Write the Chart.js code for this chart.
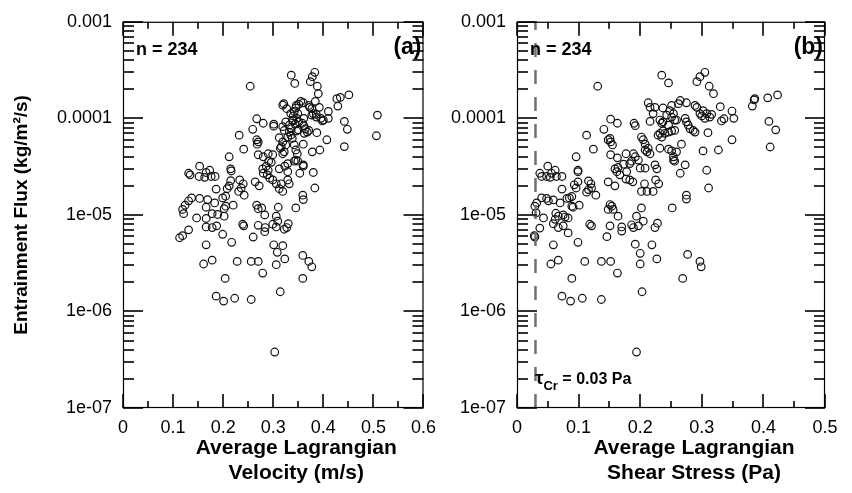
<!DOCTYPE html>
<html>
<head>
<meta charset="utf-8">
<script src="https://cdn.jsdelivr.net/npm/chart.js@4.4.0/dist/chart.umd.min.js"></script>
<style>
  body { margin: 0; background: #fff; }
  #wrap { position: relative; width: 852px; height: 493px; }
  canvas { position: absolute; top: 0; }
</style>
</head>
<body>
<div id="wrap">
  <canvas id="chartA" width="445" height="493" style="left:0"></canvas>
  <canvas id="chartB" width="407" height="493" style="left:445px"></canvas>
</div>
<script>
// panel (a) : velocity vs flux
const velA = [
  0.254, 0.267, 0.280, 0.259, 0.301, 0.301, 0.232, 0.267, 0.270, 0.268,
  0.241, 0.312, 0.314, 0.212, 0.270, 0.280, 0.290, 0.299, 0.291, 0.296,
  0.286, 0.279, 0.280, 0.290, 0.288, 0.293, 0.299, 0.312, 0.215, 0.216,
  0.153, 0.131, 0.134, 0.152, 0.163, 0.166, 0.173, 0.176, 0.184, 0.186,
  0.215, 0.212, 0.208, 0.233, 0.240, 0.236, 0.231, 0.242, 0.264, 0.272,
  0.306, 0.312, 0.319, 0.199, 0.205, 0.137, 0.131, 0.124, 0.119, 0.121,
  0.153, 0.169, 0.183, 0.166, 0.205, 0.202, 0.220, 0.178, 0.189, 0.202,
  0.147, 0.166, 0.267, 0.270, 0.277, 0.283, 0.310, 0.306,
  0.166, 0.178, 0.187, 0.131, 0.119, 0.113, 0.199, 0.239, 0.241, 0.270,
  0.284, 0.283, 0.299, 0.306, 0.309, 0.260, 0.322, 0.166, 0.217, 0.301,
  0.319, 0.308, 0.161, 0.178, 0.228, 0.256, 0.270, 0.306, 0.323, 0.279,
  0.204, 0.186, 0.201, 0.223, 0.256, 0.314, 0.303,
  0.359, 0.371, 0.377, 0.359,
  0.329, 0.323, 0.353, 0.360, 0.380, 0.329, 0.332, 0.316, 0.359, 0.360,
  0.383, 0.345, 0.330, 0.327,
  0.336, 0.343, 0.378, 0.374, 0.388, 0.390, 0.451, 0.434, 0.427, 0.429,
  0.384, 0.355, 0.360, 0.351, 0.345, 0.342, 0.335, 0.340, 0.347, 0.338,
  0.371, 0.377, 0.380, 0.377, 0.386, 0.392, 0.395, 0.400, 0.410, 0.410,
  0.442, 0.448, 0.325, 0.332, 0.319, 0.322, 0.351, 0.358, 0.361, 0.364,
  0.368, 0.362, 0.332, 0.335, 0.329, 0.338, 0.387, 0.407, 0.319, 0.325,
  0.316, 0.322, 0.319, 0.342, 0.345, 0.348, 0.345, 0.342, 0.349, 0.360,
  0.378, 0.393, 0.442, 0.329, 0.360,
  0.508, 0.506,
  0.321, 0.319, 0.327, 0.346, 0.349, 0.373, 0.386, 0.361, 0.340, 0.344,
  0.347, 0.350, 0.336, 0.371, 0.398, 0.383
]
const fluxA = [
  2.15e-4, 9.9e-5, 8.9e-5, 7.7e-5, 8.7e-5, 8.3e-5, 6.7e-5, 6.0e-5, 5.7e-5, 5.4e-5,
  4.8e-5, 6.3e-5, 4.9e-5, 4.0e-5, 4.2e-5, 4.0e-5, 4.3e-5, 4.2e-5, 3.6e-5, 3.5e-5,
  3.2e-5, 3.0e-5, 2.7e-5, 2.9e-5, 2.6e-5, 2.4e-5, 2.3e-5, 3.0e-5, 3.0e-5, 2.85e-5,
  3.2e-5, 2.7e-5, 2.6e-5, 2.5e-5, 2.45e-5, 2.75e-5, 2.9e-5, 2.5e-5, 2.5e-5, 1.85e-5,
  2.26e-5, 2.0e-5, 1.87e-5, 2.3e-5, 2.1e-5, 1.9e-5, 1.75e-5, 1.6e-5, 2.2e-5, 2.0e-5,
  2.1e-5, 1.87e-5, 1.75e-5, 1.5e-5, 1.56e-5, 1.5e-5, 1.4e-5, 1.26e-5, 1.14e-5, 1.03e-5,
  1.48e-5, 1.44e-5, 1.33e-5, 1.2e-5, 1.23e-5, 1.16e-5, 1.26e-5, 1.03e-5, 1.01e-5, 9.7e-6,
  9.3e-6, 9.2e-6, 1.26e-5, 1.16e-5, 1.18e-5, 1.0e-5, 1.2e-5, 9.7e-6,
  7.5e-6, 7.4e-6, 7.7e-6, 7.0e-6, 6.1e-6, 5.8e-6, 6.3e-6, 8.0e-6, 7.7e-6, 7.8e-6,
  7.4e-6, 6.7e-6, 8.0e-6, 7.5e-6, 8.6e-6, 5.9e-6, 7.1e-6, 4.9e-6, 5.2e-6, 4.9e-6,
  4.8e-6, 4.1e-6, 3.1e-6, 3.4e-6, 3.3e-6, 3.3e-6, 3.3e-6, 3.05e-6, 3.5e-6, 2.5e-6,
  2.2e-6, 1.44e-6, 1.28e-6, 1.37e-6, 1.33e-6, 1.6e-6, 3.8e-7,
  3.8e-6, 3.3e-6, 2.9e-6, 2.2e-6,
  2.8e-5, 3.2e-5, 2.7e-5, 3.2e-5, 2.75e-5, 2.3e-5, 2.1e-5, 2.1e-5, 1.6e-5, 1.44e-5,
  1.9e-5, 1.18e-5, 8.1e-6, 7.4e-6,
  2.8e-4, 2.3e-4, 2.7e-4, 2.4e-4, 2.15e-4, 1.8e-4, 1.75e-4, 1.65e-4, 1.6e-4, 1.34e-4,
  1.5e-4, 1.5e-4, 1.45e-4, 1.4e-4, 1.28e-4, 1.18e-4, 1.12e-4, 1.06e-4, 1.0e-4, 9.6e-5,
  1.36e-4, 1.26e-4, 1.12e-4, 1.08e-4, 1.03e-4, 1.3e-4, 1.0e-4, 9.6e-5, 1.18e-4, 1.0e-4,
  9.3e-5, 7.7e-5, 9.2e-5, 8.5e-5, 8.2e-5, 7.5e-5, 9.2e-5, 8.9e-5, 8.4e-5, 7.8e-5,
  7.2e-5, 7.0e-5, 7.2e-5, 6.7e-5, 6.4e-5, 6.2e-5, 7.1e-5, 6.0e-5, 5.7e-5, 5.3e-5,
  5.1e-5, 4.5e-5, 4.3e-5, 5.3e-5, 4.7e-5, 4.3e-5, 3.7e-5, 3.6e-5, 3.6e-5, 5.4e-5,
  4.5e-5, 4.7e-5, 5.1e-5, 3.4e-5, 3.3e-5,
  1.08e-4, 6.6e-5,
  1.42e-4, 1.37e-4, 1.26e-4, 1.36e-4, 1.12e-4, 1.3e-4, 1.1e-4, 1.0e-4, 9.4e-5, 8.7e-5,
  7.4e-5, 7.6e-5, 7.8e-5, 7.5e-5, 9.4e-5, 3.0e-4
]

// panel (b) : shear stress vs flux
const shearB = [
  0.152, 0.163, 0.190, 0.192, 0.141, 0.113, 0.148, 0.152, 0.155, 0.151,
  0.124, 0.152, 0.177, 0.189, 0.186, 0.183, 0.163, 0.096, 0.173, 0.164,
  0.159, 0.162, 0.178, 0.167, 0.177, 0.183, 0.188, 0.099, 0.099, 0.050,
  0.037, 0.040, 0.048, 0.054, 0.056, 0.062, 0.064, 0.073, 0.148, 0.159,
  0.093, 0.099, 0.096, 0.116, 0.120, 0.121, 0.116, 0.113, 0.073, 0.128,
  0.085, 0.089, 0.081, 0.040, 0.048, 0.051, 0.059, 0.070, 0.032, 0.029,
  0.031, 0.043, 0.089, 0.091, 0.101, 0.151, 0.156, 0.148, 0.164, 0.154,
  0.063, 0.067, 0.075, 0.078, 0.083, 0.062, 0.059, 0.075, 0.118, 0.121,
  0.151, 0.170, 0.186, 0.189, 0.037,
  0.028, 0.029, 0.067, 0.083, 0.170, 0.146, 0.059, 0.099, 0.055, 0.067,
  0.110, 0.137, 0.152, 0.163, 0.089, 0.073, 0.087, 0.106, 0.137,
  0.235, 0.246, 0.297, 0.292, 0.305, 0.312, 0.319, 0.213, 0.216, 0.224,
  0.221, 0.216, 0.237, 0.251, 0.248, 0.243, 0.251, 0.254, 0.259, 0.262,
  0.265, 0.275, 0.232, 0.237, 0.235, 0.246, 0.256, 0.289, 0.292, 0.302,
  0.297, 0.300, 0.308, 0.316, 0.305, 0.313, 0.273, 0.275, 0.278, 0.281,
  0.286, 0.289, 0.310, 0.232, 0.229, 0.235, 0.240, 0.237, 0.246, 0.251,
  0.256, 0.267, 0.202, 0.205, 0.208, 0.213, 0.208, 0.211, 0.216, 0.232,
  0.246, 0.251, 0.259, 0.254, 0.254, 0.256, 0.302, 0.192, 0.197, 0.224,
  0.227, 0.200, 0.208, 0.273, 0.308,
  0.330, 0.349, 0.336, 0.332, 0.352, 0.386, 0.385, 0.382, 0.407, 0.423,
  0.409, 0.420, 0.349, 0.327, 0.411,
  0.265, 0.207, 0.225, 0.230, 0.202, 0.211, 0.221, 0.311, 0.275, 0.275,
  0.202, 0.252, 0.194, 0.205, 0.197, 0.228, 0.224, 0.192, 0.219, 0.200,
  0.227, 0.277, 0.297,
  0.200, 0.299, 0.269, 0.203, 0.194,
  0.131
]
const fluxB = [
  9.8e-5, 8.9e-5, 8.9e-5, 8.4e-5, 7.7e-5, 6.7e-5, 6.0e-5, 5.7e-5, 5.3e-5, 6.2e-5,
  4.8e-5, 4.2e-5, 4.3e-5, 4.3e-5, 3.6e-5, 3.4e-5, 3.9e-5, 4.0e-5, 3.35e-5, 3.1e-5,
  3.0e-5, 2.8e-5, 2.8e-5, 2.6e-5, 2.35e-5, 2.3e-5, 2.2e-5, 2.9e-5, 2.8e-5, 3.2e-5,
  2.7e-5, 2.5e-5, 2.5e-5, 2.45e-5, 2.7e-5, 2.9e-5, 2.5e-5, 2.5e-5, 2.2e-5, 2.0e-5,
  2.05e-5, 2.2e-5, 1.9e-5, 2.25e-5, 2.1e-5, 1.9e-5, 1.83e-5, 1.72e-5, 1.85e-5, 1.6e-5,
  1.5e-5, 1.55e-5, 1.48e-5, 1.5e-5, 1.48e-5, 1.4e-5, 1.43e-5, 1.33e-5, 1.33e-5, 1.23e-5,
  1.05e-5, 9.3e-6, 1.23e-5, 1.2e-5, 1.26e-5, 1.28e-5, 1.14e-5, 1.14e-5, 9.7e-6, 1.23e-5,
  1.04e-5, 9.7e-6, 1.0e-5, 9.5e-6, 9.3e-6, 9.0e-6, 8.1e-6, 7.7e-6, 8.0e-6, 7.7e-6,
  7.7e-6, 7.5e-6, 7.9e-6, 7.4e-6, 7.3e-6,
  6.1e-6, 5.9e-6, 7.4e-6, 6.5e-6, 6.8e-6, 5.95e-6, 4.9e-6, 5.2e-6, 3.1e-6, 3.4e-6,
  3.3e-6, 3.3e-6, 3.3e-6, 2.5e-6, 2.2e-6, 1.44e-6, 1.28e-6, 1.37e-6, 1.33e-6,
  2.8e-4, 2.33e-4, 2.7e-4, 2.4e-4, 3.0e-4, 2.15e-4, 1.8e-4, 1.45e-4, 1.3e-4, 1.3e-4,
  1.12e-4, 9.3e-5, 1.28e-4, 1.36e-4, 1.2e-4, 1.08e-4, 1.03e-4, 1.12e-4, 9.6e-5, 1.42e-4,
  1.53e-4, 1.45e-4, 9.6e-5, 9.2e-5, 8.9e-5, 8.5e-5, 9.6e-5, 1.36e-4, 1.3e-4, 1.2e-4,
  1.12e-4, 1.06e-4, 1.12e-4, 1.1e-4, 1.0e-4, 1.03e-4, 1.0e-4, 9.2e-5, 8.5e-5, 7.8e-5,
  7.5e-5, 7.2e-5, 7.1e-5, 7.0e-5, 6.7e-5, 6.4e-5, 7.0e-5, 7.4e-5, 7.2e-5, 7.4e-5,
  7.5e-5, 5.4e-5, 6.4e-5, 6.0e-5, 5.4e-5, 4.9e-5, 4.7e-5, 4.5e-5, 4.3e-5, 4.9e-5,
  4.8e-5, 4.6e-5, 4.5e-5, 4.0e-5, 3.7e-5, 3.6e-5, 4.6e-5, 4.0e-5, 3.7e-5, 3.3e-5,
  3.0e-5, 3.05e-5, 3.05e-5, 3.3e-5, 2.9e-5,
  1.32e-4, 1.19e-4, 9.9e-5, 9.4e-5, 1.0e-4, 1.6e-4, 1.55e-4, 1.34e-4, 1.63e-4, 1.75e-4,
  9.3e-5, 7.6e-5, 6.0e-5, 4.7e-5, 5.05e-5,
  2.7e-5, 2.1e-5, 2.3e-5, 2.1e-5, 1.75e-5, 1.75e-5, 1.75e-5, 1.9e-5, 1.6e-5, 1.46e-5,
  1.18e-5, 1.18e-5, 9.7e-6, 8.6e-6, 7.7e-6, 8.2e-6, 7.4e-6, 4.97e-6, 4.9e-6, 4.0e-6,
  3.5e-6, 3.9e-6, 3.3e-6,
  3.1e-6, 2.9e-6, 2.2e-6, 1.6e-6, 3.8e-7,
  2.15e-4
]

const yTicks = [1e-7, 1e-6, 1e-5, 1e-4, 1e-3]
const yTickLabels = ["1e-07", "1e-06", "1e-05", "0.0001", "0.001"]
const xTicksA = [0, 0.1, 0.2, 0.3, 0.4, 0.5, 0.6]
const xTicksB = [0, 0.1, 0.2, 0.3, 0.4, 0.5]
const tauCr = 0.03

const FONT = "'Liberation Sans', Arial, sans-serif"

/**
 * Cadre, graduations vers l'intérieur et textes du panneau
 */
const frameTicks = {
  id: "frameTicks",
  afterDraw(chart, args, opts) {
    const { ctx, chartArea: a, scales } = chart
    const x = scales.x
    const y = scales.y
    ctx.save()
    ctx.fillStyle = "#333"
    // y : majeures + mineures (échelle log), dessinées en rectangles pleins
    yTicks.forEach((base) => {
      for (let k = 1; k <= 9; k++) {
        const v = k * base
        if (v > yTicks[yTicks.length - 1] * 1.0001) break
        const py = Math.round(y.getPixelForValue(v))
        const len = k === 1 ? 20 : 11
        ctx.fillRect(a.left, py - 1, len, 2)
        ctx.fillRect(a.right - len, py - 1, len, 2)
      }
    })
    // x : majeures + mineures
    const xt = opts.xTicks
    const step = xt[1] - xt[0]
    xt.forEach((v, i) => {
      const px = Math.round(x.getPixelForValue(v))
      ctx.fillRect(px - 1, a.bottom - 14, 2, 14)
      ctx.fillRect(px - 1, a.top, 2, 14)
      if (i < xt.length - 1) {
        const pm = Math.round(x.getPixelForValue(v + step / 2))
        ctx.fillRect(pm - 1, a.bottom - 7, 2, 7)
        ctx.fillRect(pm - 1, a.top, 2, 7)
      }
    })

    // cadre
    ctx.strokeStyle = "#000"
    ctx.lineWidth = 1.2
    ctx.strokeRect(a.left + 0.5, a.top + 0.5, a.right - a.left - 1, a.bottom - a.top - 1)

    // textes
    ctx.fillStyle = "#000"
    ctx.textBaseline = "middle"
    ctx.font = `bold 18px ${FONT}`
    ctx.textAlign = "left"
    ctx.fillText(opts.count, a.left + 13, 50)
    ctx.font = `bold 23px ${FONT}`
    ctx.textAlign = "right"
    ctx.fillText(opts.tag, a.right - 2, 48)
    // titre de l'axe x (deux lignes)
    ctx.font = `bold 21px ${FONT}`
    ctx.textAlign = "center"
    const cx = (a.left + a.right) / 2 + 23
    opts.xTitle.forEach((line, i) => ctx.fillText(line, cx, 448 + i * 25))
    if (opts.tau) {
      ctx.textAlign = "left"
      ctx.textBaseline = "alphabetic"
      let tx = a.left + 18
      ctx.font = `bold 19px ${FONT}`
      ctx.fillText("τ", tx, 384)
      tx += ctx.measureText("τ").width
      ctx.font = `bold 13px ${FONT}`
      ctx.fillText("Cr", tx, 390)
      tx += ctx.measureText("Cr").width
      ctx.font = `bold 16px ${FONT}`
      ctx.fillText(" = 0.03 Pa", tx, 384)
    }
    ctx.restore()
  },
}

const pointStyle = {
  type: "scatter",
  pointRadius: 3.8,
  pointHoverRadius: 3.8,
  borderWidth: 1.2,
  borderColor: "#111",
  backgroundColor: "rgba(0,0,0,0)",
}

const makeOptions = (xMax, xTicks, yWidth, titleY, xTitle, tag, rightPad) => ({
  responsive: false,
  animation: false,
  layout: { padding: { top: 19, right: rightPad, left: 0, bottom: 0 } },
  plugins: {
    legend: { display: false },
    tooltip: { enabled: false },
    frameTicks: { xTicks, xTitle, count: "n = 234", tag, tau: tag === "(b)" },
  },
  scales: {
    x: {
      type: "linear",
      min: 0,
      max: xMax,
      afterFit: (s) => { s.height = 85 },
      afterBuildTicks: (s) => { s.ticks = xTicks.map((v) => ({ value: v })) },
      grid: { display: false, drawTicks: false },
      border: { display: false },
      ticks: {
        padding: 9,
        color: "#000",
        font: { family: FONT, size: 18 },
        callback: (v) => String(Math.round(v * 10) / 10),
        maxRotation: 0,
      },
    },
    y: {
      type: "logarithmic",
      min: 1e-7,
      max: 1e-3,
      afterFit: (s) => { s.width = yWidth },
      afterBuildTicks: (s) => { s.ticks = yTicks.map((v) => ({ value: v })) },
      grid: { display: false, drawTicks: false },
      border: { display: false },
      ticks: {
        padding: 11,
        color: "#000",
        font: { family: FONT, size: 18 },
        callback: (v) => yTickLabels[yTicks.findIndex((t) => Math.abs(t - v) / t < 1e-6)],
      },
      title: {
        display: !!titleY,
        text: titleY || "",
        color: "#000",
        font: { family: FONT, size: 19, weight: "bold" },
        padding: { top: 10, bottom: 0 },
      },
    },
  },
})

const toPoints = (xs, ys) => xs.map((v, i) => ({ x: v, y: ys[i] }))

new Chart(document.getElementById("chartA"), {
  type: "scatter",
  data: { datasets: [{ ...pointStyle, data: toPoints(velA, fluxA) }] },
  options: makeOptions(0.6, xTicksA, 123, "Entrainment Flux (kg/m²/s)",
    ["Average Lagrangian", "Velocity (m/s)"], "(a)", 14),
  plugins: [frameTicks],
})

new Chart(document.getElementById("chartB"), {
  type: "scatter",
  data: {
    datasets: [
      {
        type: "line",
        data: [{ x: tauCr, y: 1e-7 }, { x: tauCr, y: 1e-3 }],
        borderColor: "#707070",
        borderWidth: 2.5,
        borderDash: [14, 13],
        pointRadius: 0,
        fill: false,
      },
      { ...pointStyle, data: toPoints(shearB, fluxB) },
    ],
  },
  options: makeOptions(0.5, xTicksB, 72, null,
    ["Average Lagrangian", "Shear Stress (Pa)"], "(b)", 27),
  plugins: [frameTicks],
})
</script>
</body>
</html>
